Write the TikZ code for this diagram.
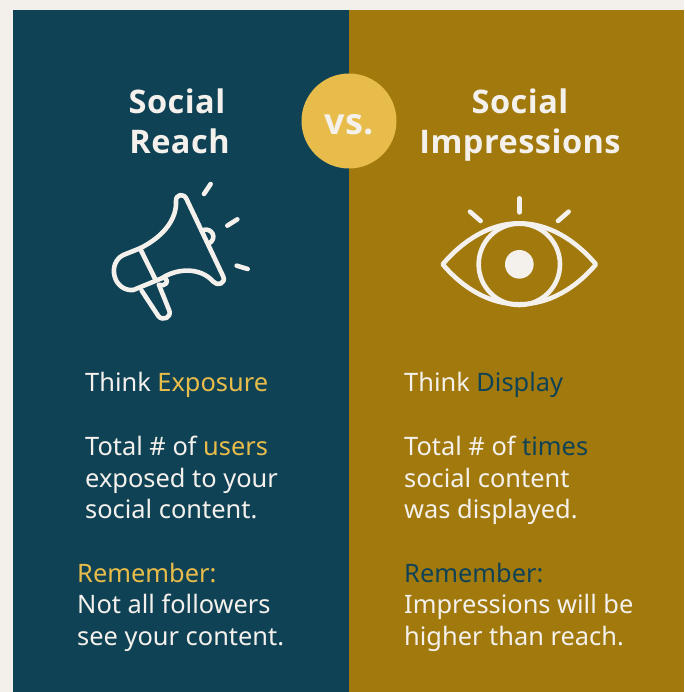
\documentclass[tikz,border=0pt]{standalone}
\usepackage{fontspec}
\setmainfont{Noto Sans}
\newfontfamily\headfont[LetterSpace=1.5]{Open Sans}
\definecolor{navy}{HTML}{104256}
\definecolor{ochre}{HTML}{A1790D}
\definecolor{sun}{HTML}{E8BC4A}
\definecolor{paper}{HTML}{F3EFEB}
\definecolor{ink}{HTML}{F4F1EC}
\tikzset{
  title/.style={font=\headfont\fontsize{32.5}{32.5}\selectfont\bfseries,text=ink,anchor=base},
  versus/.style={font=\headfont\fontsize{36}{36}\selectfont\bfseries,text=ink,anchor=base},
  body/.style={font=\fontsize{25.4}{25.4}\selectfont,text=ink,anchor=base west,inner sep=0pt},
  icon/.style={draw=ink,line width=4.6pt,line cap=round,line join=round}
}
\begin{document}
\begin{tikzpicture}[x=1pt,y=-1pt]
\useasboundingbox (0,0) rectangle (684,692);
\fill[paper] (0,0) rectangle (684,692);
\fill[navy] (13,10) rectangle (349,692);
\fill[ochre] (349,10) rectangle (684,692);
\fill[sun] (349,121) circle[radius=47.5];
\node[versus] (vs) at (349,135) {vs.};
\node[title] (t1) at (177,114) {Social};
\node[title] (t2) at (179.5,154) {Reach};
\node[title] (t3) at (520,114) {Social};
\node[title] (t4) at (520,154) {Impressions};
\begin{scope}[shift={(90,170)},x=0.3333pt,y=-0.3333pt]
 \draw[icon] (150,235) .. controls (230,195) and (260,140) .. (258,95)
   .. controls (256,72) and (282,68) .. (290,88)
   -- (400,320) .. controls (408,340) and (382,350) .. (370,335)
   .. controls (330,290) and (260,295) .. (215,325)
   -- (130,360) .. controls (70,365) and (50,280) .. (100,255) -- cycle;
 \draw[icon] (150,235) -- (198,332);
 \draw[icon] (155,362) -- (205,438) .. controls (218,455) and (245,442) .. (238,422) -- (207,345);
 \draw[icon] (340,180) .. controls (365,172) and (385,205) .. (355,222);
 \draw[icon] (225,325) .. controls (240,335) and (225,350) .. (207,345);
 \draw[icon] (342,72) -- (362,42);
 \draw[icon] (412,167) -- (442,148);
 \draw[icon] (440,287) -- (473,297);
\end{scope}
\begin{scope}[shift={(430,185)},x=0.3333pt,y=-0.3333pt]
 \draw[icon] (38,238) .. controls (100,165) and (180,115) .. (268,115)
   .. controls (356,115) and (436,165) .. (498,238)
   .. controls (436,311) and (356,358) .. (268,358)
   .. controls (180,358) and (100,311) .. (38,238) -- cycle;
 \draw[icon] (268,238) circle[radius=122];
 \fill[ink] (268,238) circle[radius=43];
 \draw[icon] (268,40) -- (268,82);
 \draw[icon] (120,80) -- (152,108);
 \draw[icon] (416,80) -- (384,108);
\end{scope}
\node[body] (a1) at (85,391) {Think \textcolor{sun}{Exposure}};
\node[body] (a2) at (85,455) {Total \# of \textcolor{sun}{users}};
\node[body] (a3) at (85,487) {exposed to your};
\node[body] (a4) at (85,518) {social content.};
\node[body,text=sun] (a5) at (77,582) {Remember:};
\node[body] (a6) at (77,613) {Not all followers};
\node[body] (a7) at (77,645) {see your content.};
\node[body] (b1) at (404,391) {Think \textcolor{navy}{Display}};
\node[body] (b2) at (404,455) {Total \# of \textcolor{navy}{times}};
\node[body] (b3) at (404,487) {social content};
\node[body] (b4) at (404,518) {was displayed.};
\node[body,text=navy] (b5) at (404,582) {Remember:};
\node[body] (b6) at (404,613) {Impressions will be};
\node[body] (b7) at (404,645) {higher than reach.};
\end{tikzpicture}
\end{document}
